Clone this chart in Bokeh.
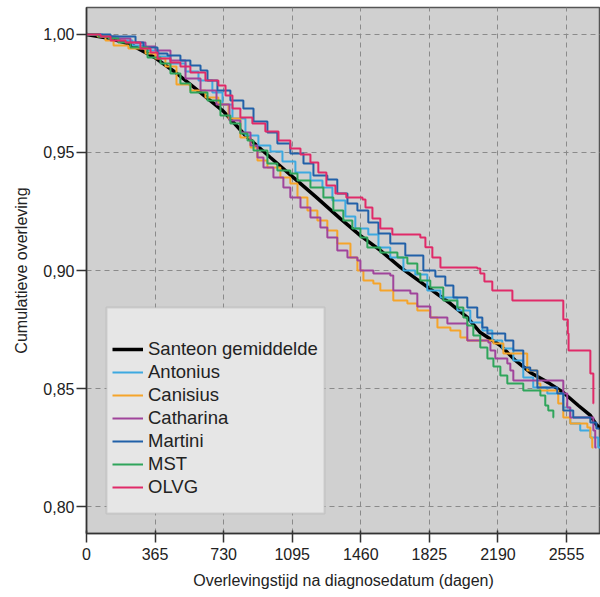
from bokeh.plotting import figure
from bokeh.models import Range1d, FixedTicker, Legend, LegendItem, BoxAnnotation
from bokeh.embed import file_html
from bokeh.resources import INLINE

# ---------------- data ----------------
x_ticks = [0, 365, 730, 1095, 1460, 1825, 2190, 2555]
y_ticks = [0.80, 0.85, 0.90, 0.95, 1.00]
y_tick_labels = ["0,80", "0,85", "0,90", "0,95", "1,00"]

series_names = ["Santeon gemiddelde", "Antonius", "Canisius", "Catharina",
                "Martini", "MST", "OLVG"]

santeon_days = [0, 128, 234, 362, 474, 607, 729, 846, 979, 1096, 1218, 1351, 1458,
                1564, 1671, 1825, 1937, 2027, 2096, 2203, 2283, 2362, 2458, 2538,
                2618, 2682, 2714, 2735]
santeon_surv = [1.0, 0.9983, 0.9958, 0.9903, 0.9839, 0.9754, 0.9674, 0.9572, 0.9479,
                0.9398, 0.9314, 0.9220, 0.9148, 0.9085, 0.9013, 0.8924, 0.8860,
                0.8801, 0.8737, 0.8682, 0.8619, 0.8568, 0.8525, 0.8483, 0.8428,
                0.8386, 0.8347, 0.8331]

antonius_days = [0, 85, 170, 245, 314, 383, 447, 527, 596, 670, 724, 777, 846, 915,
                 979, 1043, 1112, 1192, 1256, 1309, 1378, 1431, 1500, 1554, 1617,
                 1687, 1750, 1814, 1884, 1974, 2043, 2107, 2160, 2213, 2272, 2325,
                 2378, 2453, 2538, 2575, 2628, 2682, 2724, 2735]
antonius_surv = [1.0, 0.9992, 0.9975, 0.9953, 0.9932, 0.9907, 0.9877, 0.9843, 0.9805,
                 0.9754, 0.9703, 0.9644, 0.9572, 0.9530, 0.9504, 0.9462, 0.9415,
                 0.9381, 0.9352, 0.9297, 0.9229, 0.9178, 0.9153, 0.9097, 0.9055,
                 0.9000, 0.8983, 0.8915, 0.8886, 0.8831, 0.8780, 0.8746, 0.8703,
                 0.8669, 0.8619, 0.8547, 0.8504, 0.8479, 0.8419, 0.8352, 0.8322,
                 0.8292, 0.8250, 0.8250]

canisius_days = [0, 59, 101, 144, 223, 314, 367, 420, 479, 553, 633, 702, 756, 819,
                 873, 910, 963, 1032, 1085, 1123, 1176, 1229, 1282, 1335, 1405, 1442,
                 1474, 1527, 1564, 1633, 1708, 1761, 1830, 1868, 1937, 1990, 2027,
                 2166, 2219, 2346, 2400, 2416, 2511, 2538, 2575, 2666, 2682, 2692,
                 2698]
canisius_surv = [1.0, 0.9992, 0.9975, 0.9953, 0.9941, 0.9919, 0.9898, 0.9864, 0.9788,
                 0.9763, 0.9733, 0.9703, 0.9644, 0.9564, 0.9521, 0.9466, 0.9436,
                 0.9394, 0.9369, 0.9309, 0.9254, 0.9212, 0.9169, 0.9114, 0.9055,
                 0.9000, 0.8958, 0.8945, 0.8915, 0.8873, 0.8860, 0.8831, 0.8801,
                 0.8758, 0.8746, 0.8716, 0.8703, 0.8691, 0.8648, 0.8576, 0.8521,
                 0.8492, 0.8436, 0.8377, 0.8352, 0.8335, 0.8292, 0.8250, 0.8250]

catharina_days = [0, 74, 154, 234, 314, 367, 447, 527, 607, 692, 761, 819, 873, 910,
                  942, 995, 1048, 1085, 1139, 1192, 1245, 1282, 1335, 1389, 1442,
                  1458, 1527, 1617, 1633, 1724, 1761, 1830, 1921, 2027, 2139, 2150,
                  2176, 2240, 2256, 2272, 2538, 2559, 2575, 2698, 2708, 2715]
catharina_surv = [1.0, 0.9992, 0.9983, 0.9966, 0.9949, 0.9932, 0.9890, 0.9814,
                  0.9763, 0.9703, 0.9636, 0.9585, 0.9530, 0.9479, 0.9436, 0.9394,
                  0.9352, 0.9309, 0.9267, 0.9225, 0.9182, 0.9140, 0.9085, 0.9055,
                  0.9042, 0.9000, 0.8987, 0.8979, 0.8915, 0.8903, 0.8847, 0.8801,
                  0.8775, 0.8703, 0.8695, 0.8661, 0.8627, 0.8606, 0.8576, 0.8534,
                  0.8479, 0.8419, 0.8377, 0.8322, 0.8250, 0.8250]

martini_days = [0, 128, 261, 303, 378, 431, 500, 553, 607, 644, 697, 766, 835, 889,
                963, 1016, 1085, 1155, 1208, 1282, 1335, 1389, 1442, 1500, 1554,
                1617, 1697, 1793, 1857, 1910, 1953, 2027, 2080, 2107, 2134, 2229,
                2272, 2325, 2362, 2400, 2506, 2538, 2591, 2682, 2714, 2730]
martini_surv = [1.0, 0.9992, 0.9966, 0.9945, 0.9919, 0.9911, 0.9890, 0.9869, 0.9847,
                0.9805, 0.9763, 0.9720, 0.9686, 0.9631, 0.9585, 0.9538, 0.9496,
                0.9453, 0.9403, 0.9386, 0.9326, 0.9284, 0.9254, 0.9203, 0.9157,
                0.9114, 0.9064, 0.9000, 0.8975, 0.8936, 0.8886, 0.8843, 0.8801,
                0.8758, 0.8733, 0.8703, 0.8661, 0.8589, 0.8576, 0.8504, 0.8479,
                0.8407, 0.8377, 0.8356, 0.8331, 0.8331]

mst_days = [0, 64, 117, 170, 234, 325, 394, 447, 500, 553, 644, 713, 766, 819, 857,
            889, 963, 1016, 1085, 1123, 1192, 1261, 1314, 1367, 1415, 1458, 1495,
            1564, 1655, 1708, 1761, 1777, 1830, 1899, 1974, 2006, 2027, 2059, 2096,
            2134, 2166, 2203, 2240, 2325, 2416, 2442, 2458, 2485, 2487]
mst_surv = [1.0, 0.9992, 0.9983, 0.9966, 0.9945, 0.9903, 0.9877, 0.9835, 0.9792,
            0.9754, 0.9720, 0.9657, 0.9623, 0.9581, 0.9551, 0.9508, 0.9453, 0.9424,
            0.9411, 0.9381, 0.9352, 0.9309, 0.9254, 0.9212, 0.9178, 0.9140, 0.9097,
            0.9076, 0.9055, 0.9030, 0.8987, 0.8958, 0.8928, 0.8873, 0.8843, 0.8801,
            0.8767, 0.8725, 0.8674, 0.8627, 0.8593, 0.8555, 0.8521, 0.8492, 0.8470,
            0.8428, 0.8407, 0.8377, 0.8377]

olvg_days = [0, 75, 128, 208, 287, 341, 378, 447, 500, 553, 633, 702, 740, 777, 819,
             883, 952, 1022, 1085, 1139, 1192, 1234, 1277, 1325, 1383, 1469, 1485,
             1522, 1564, 1628, 1777, 1804, 1841, 1884, 2080, 2096, 2118, 2160, 2267,
             2538, 2562, 2566, 2682, 2698, 2699]
olvg_surv = [1.0, 0.9992, 0.9975, 0.9966, 0.9941, 0.9924, 0.9898, 0.9881, 0.9864,
             0.9839, 0.9805, 0.9784, 0.9742, 0.9686, 0.9648, 0.9623, 0.9589, 0.9551,
             0.9517, 0.9492, 0.9458, 0.9415, 0.9360, 0.9326, 0.9309, 0.9301, 0.9267,
             0.9220, 0.9178, 0.9153, 0.9140, 0.9098, 0.9055, 0.9013, 0.9008, 0.8987,
             0.8953, 0.8915, 0.8873, 0.8792, 0.8733, 0.8661, 0.8564, 0.8436, 0.8436]

# ---------------- styles ----------------
colors = ["#000000", "#3da9e0", "#f5a42a", "#a0449b", "#2160a8", "#2fa55b", "#e02a68"]
FONT = "Liberation Sans"

p = figure(frame_width=514, frame_height=526,
           min_border_left=86, min_border_right=0, min_border_top=7, min_border_bottom=64,
           x_range=Range1d(0, 2736), y_range=Range1d(0.78856, 1.01144),
           output_backend="svg", toolbar_location=None, tools="")
p.background_fill_color = "#d0d0d0"
p.border_fill_color = "white"
p.outline_line_color = "#555555"
p.outline_line_width = 1.5

# grid
p.xgrid.ticker = FixedTicker(ticks=x_ticks)
p.ygrid.ticker = FixedTicker(ticks=y_ticks)
for g in (p.xgrid, p.ygrid):
    g.grid_line_color = "#8a8a8a"
    g.grid_line_dash = "5 4"
    g.grid_line_width = 1

# axes
p.xaxis.ticker = FixedTicker(ticks=x_ticks)
p.yaxis.ticker = FixedTicker(ticks=y_ticks)
p.yaxis.major_label_overrides = {t: lab for t, lab in zip(y_ticks, y_tick_labels)}
p.xaxis.axis_label = "Overlevingstijd na diagnosedatum (dagen)"
p.yaxis.axis_label = "Cumulatieve overleving"
for ax in (p.xaxis, p.yaxis):
    ax.axis_line_color = "#333333"
    ax.axis_line_width = 1.5
    ax.major_tick_line_color = "#333333"
    ax.major_tick_line_width = 1.5
    ax.minor_tick_line_color = None
    ax.major_label_text_font = FONT
    ax.major_label_text_font_size = "16px"
    ax.major_label_text_color = "#222222"
    ax.axis_label_text_font = FONT
    ax.axis_label_text_font_size = "16px"
    ax.axis_label_text_font_style = "normal"
    ax.axis_label_text_color = "#222222"
p.yaxis.major_tick_out = 10
p.yaxis.major_tick_in = 0
p.yaxis.major_label_standoff = 2
p.yaxis.axis_label_standoff = 10
p.xaxis.major_tick_out = 9
p.xaxis.major_tick_in = 3
p.xaxis.major_label_standoff = 5
p.xaxis.axis_label_standoff = 9

# curves
all_days = [santeon_days, antonius_days, canisius_days, catharina_days,
            martini_days, mst_days, olvg_days]
all_surv = [santeon_surv, antonius_surv, canisius_surv, catharina_surv,
            martini_surv, mst_surv, olvg_surv]

renderers = []
for i, (d, s) in enumerate(zip(all_days, all_surv)):
    if i == 0:
        r = p.line(d, s, line_color=colors[i], line_width=3.5)
    else:
        r = p.step(d, s, mode="after", line_color=colors[i], line_width=2)
    renderers.append(r)

# legend background box
box = BoxAnnotation(left=20, right=238, bottom=20, top=226,
                    left_units="screen", right_units="screen",
                    top_units="screen", bottom_units="screen",
                    fill_color="#e6e6e6", fill_alpha=1.0,
                    line_color="#9a9a9a", line_width=2)
p.add_layout(box)

legend = Legend(items=[LegendItem(label=n, renderers=[r]) for n, r in zip(series_names, renderers)],
                location=(26, 35), padding=0, margin=0, spacing=1,
                glyph_width=31, glyph_height=20, label_height=20, label_standoff=5,
                label_text_font=FONT, label_text_font_size="18.5px", label_text_color="#222222",
                background_fill_alpha=0, border_line_alpha=0)
p.add_layout(legend)

open("out.html", "w").write(file_html(p, INLINE))
